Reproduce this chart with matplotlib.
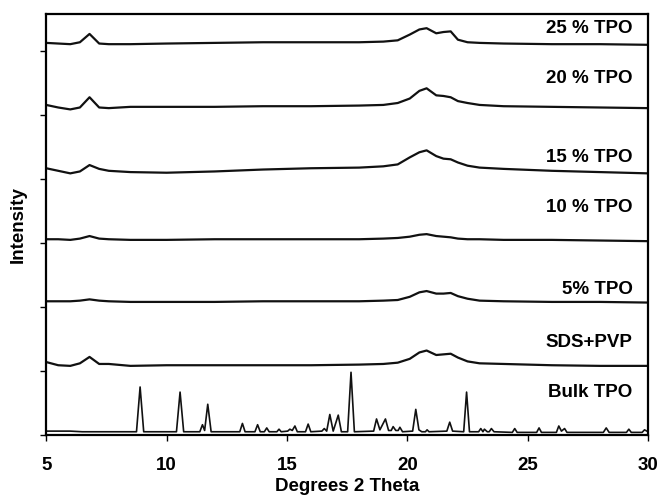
import numpy as np
import matplotlib
matplotlib.use("Agg")
import matplotlib.pyplot as plt

plt.rcParams['font.family'] = ['Liberation Sans', 'DejaVu Sans']

# 2-theta grid
theta_am = [5.0, 5.5, 6.0, 6.4, 6.8, 7.2, 7.6, 8.5, 10, 12, 14, 16, 18, 19.0, 19.6,
            20.1, 20.5, 20.8, 21.2, 21.5, 21.8, 22.1, 22.5, 23.0, 24, 26, 28, 30]

tpo25 = [0.13, 0.12, 0.11, 0.14, 0.27, 0.12, 0.11, 0.11, 0.12, 0.13, 0.14, 0.14, 0.14, 0.15, 0.17,
         0.26, 0.34, 0.36, 0.28, 0.30, 0.31, 0.18, 0.14, 0.13, 0.12, 0.11, 0.11, 0.10]
tpo20 = [0.16, 0.12, 0.09, 0.12, 0.28, 0.12, 0.11, 0.13, 0.13, 0.13, 0.14, 0.14, 0.15, 0.16, 0.19,
         0.26, 0.38, 0.42, 0.31, 0.30, 0.28, 0.22, 0.19, 0.16, 0.14, 0.13, 0.12, 0.11]
tpo15 = [0.17, 0.13, 0.09, 0.12, 0.22, 0.16, 0.13, 0.11, 0.10, 0.12, 0.15, 0.17, 0.18, 0.20, 0.23,
         0.34, 0.42, 0.45, 0.36, 0.32, 0.31, 0.26, 0.21, 0.18, 0.16, 0.13, 0.11, 0.09]
tpo10 = [0.06, 0.06, 0.05, 0.07, 0.11, 0.07, 0.06, 0.05, 0.05, 0.06, 0.06, 0.06, 0.06, 0.07, 0.08,
         0.10, 0.13, 0.14, 0.11, 0.10, 0.09, 0.07, 0.06, 0.06, 0.05, 0.05, 0.04, 0.03]
tpo5 = [0.09, 0.09, 0.09, 0.10, 0.12, 0.10, 0.09, 0.08, 0.08, 0.08, 0.09, 0.09, 0.09, 0.10, 0.11,
        0.16, 0.23, 0.25, 0.21, 0.21, 0.22, 0.17, 0.13, 0.10, 0.09, 0.08, 0.08, 0.07]
sds_pvp = [0.14, 0.09, 0.08, 0.12, 0.22, 0.11, 0.11, 0.08, 0.09, 0.09, 0.09, 0.09, 0.10, 0.11, 0.13,
           0.19, 0.29, 0.32, 0.25, 0.26, 0.27, 0.21, 0.15, 0.12, 0.11, 0.09, 0.08, 0.08]

# bulk (crystalline) pattern
bulk_theta = [5.0, 6.0, 6.5, 8.75, 8.90, 9.05, 10.41, 10.56, 10.71, 11.38, 11.49, 11.58, 11.71, 11.85,
              13.04, 13.15, 13.26, 13.67, 13.78, 13.89, 14.06, 14.16, 14.26, 14.58, 14.67, 14.76,
              15.03, 15.12, 15.22, 15.33, 15.43, 15.77, 15.88, 15.99, 16.45, 16.55, 16.65, 16.78,
              16.92, 17.13, 17.26, 17.52, 17.66, 17.80, 18.60, 18.72, 18.86, 19.09, 19.22, 19.33,
              19.41, 19.52, 19.62, 19.69, 19.80, 20.22, 20.35, 20.48, 20.60, 20.75, 20.82, 20.90,
              21.64, 21.76, 21.88, 22.34, 22.46, 22.58, 22.96, 23.05, 23.14, 23.20, 23.32, 23.40,
              23.49, 23.60, 24.36, 24.46, 24.56, 25.37, 25.47, 25.57, 26.19, 26.29, 26.40, 26.53,
              26.63, 28.14, 28.26, 28.38, 29.10, 29.20, 29.30, 29.75, 29.85, 30.0]
bulk_int = [0.06, 0.06, 0.05, 0.05, 0.75, 0.05, 0.05, 0.67, 0.05, 0.05, 0.16, 0.07, 0.48, 0.05,
            0.05, 0.18, 0.05, 0.05, 0.16, 0.05, 0.05, 0.11, 0.05, 0.05, 0.09, 0.05,
            0.06, 0.09, 0.07, 0.14, 0.05, 0.05, 0.17, 0.05, 0.06, 0.10, 0.06, 0.32,
            0.06, 0.31, 0.05, 0.05, 0.98, 0.05, 0.06, 0.25, 0.08, 0.25, 0.07, 0.07,
            0.13, 0.07, 0.07, 0.12, 0.05, 0.06, 0.40, 0.08, 0.05, 0.05, 0.08, 0.05,
            0.06, 0.20, 0.06, 0.05, 0.67, 0.05, 0.05, 0.10, 0.05, 0.09, 0.05, 0.05,
            0.10, 0.05, 0.04, 0.10, 0.04, 0.04, 0.11, 0.04, 0.04, 0.14, 0.06, 0.10,
            0.04, 0.04, 0.11, 0.04, 0.04, 0.09, 0.04, 0.04, 0.08, 0.05]

labels = ['Bulk TPO', 'SDS+PVP', '5% TPO', '10 % TPO', '15 % TPO', '20 % TPO', '25 % TPO']
label_y = [0.66, 1.45, 2.27, 3.55, 4.34, 5.58, 6.36]

fig = plt.figure(figsize=(6.6, 5.04), dpi=100)
ax = fig.add_axes([0.07, 0.137, 0.912, 0.835])

col = '#111111'
ax.plot(bulk_theta, bulk_int, color=col, lw=1.2)
stack = [sds_pvp, tpo5, tpo10, tpo15, tpo20, tpo25]
for i, s in enumerate(stack):
    ax.plot(theta_am, np.array(s) + (i + 1), color=col, lw=1.6)

fs = 13.5
for lab, yy in zip(labels, label_y):
    ax.text(29.35, yy, lab, ha='right', va='center', fontsize=fs, fontweight='bold')

ax.set_xlim(5, 30)
ax.set_ylim(0, 6.58)
ax.set_xticks([5, 10, 15, 20, 25, 30])
ax.set_yticks(range(7))
ax.set_yticklabels([])
ax.tick_params(axis='x', direction='out', length=4, width=1, labelsize=fs, pad=12)
ax.tick_params(axis='y', direction='out', length=4.5, width=1)
for t in ax.get_xticklabels():
    t.set_fontweight('bold')
for sp in ax.spines.values():
    sp.set_linewidth(1.6)

ax.set_xlabel('Degrees 2 Theta', fontsize=fs, fontweight='bold', labelpad=3)
ax.set_ylabel('Intensity', fontsize=fs, fontweight='bold', labelpad=6)

fig.savefig('out.png', dpi=100)
